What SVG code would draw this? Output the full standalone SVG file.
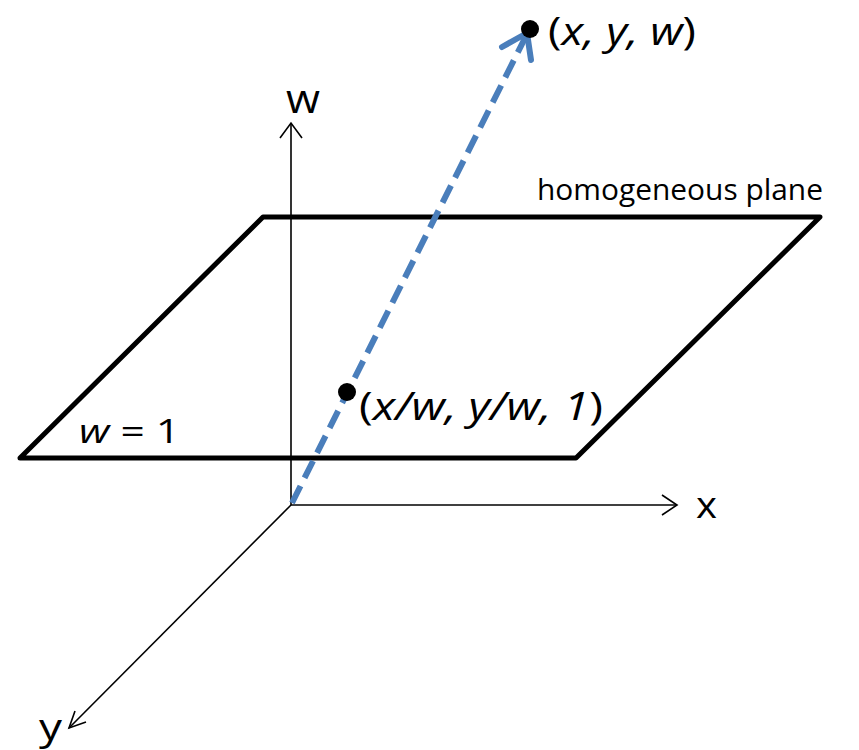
<svg xmlns="http://www.w3.org/2000/svg" width="859" height="750" viewBox="0 0 859 750">
<style>
.t{font-family:"Open Sans","Noto Sans",sans-serif;fill:#000}
.ax{fill:none;stroke:#000;stroke-width:1.6}
</style>
<rect width="859" height="750" fill="#fff"/>
<g id="plane">
<polygon points="263,217 820,217 576,458 20,458" fill="none" stroke="#000" stroke-width="5" stroke-linejoin="round"/>
<text class="t" x="537" y="200" font-size="29" textLength="286" lengthAdjust="spacingAndGlyphs">homogeneous plane</text>
<text class="t" x="79" y="443" font-size="33" textLength="101" lengthAdjust="spacingAndGlyphs"><tspan font-style="italic">w</tspan> = 1</text>
</g>
<g id="connectors">
<g id="w-axis"><line class="ax" x1="291" y1="505" x2="291" y2="123"/><polyline class="ax" points="280,138 291,123 302,138"/></g>
<g id="x-axis"><line class="ax" x1="291" y1="505" x2="677" y2="505"/><polyline class="ax" points="662,495 677,505 662,515"/></g>
<g id="y-axis"><line class="ax" x1="291" y1="505" x2="69" y2="728"/><polyline class="ax" points="75,711 69,728 86,722"/></g>
<g id="vector">
<line x1="292" y1="503" x2="526" y2="36" stroke="#4a7ebb" stroke-width="6" stroke-dasharray="19 9"/>
<polyline points="502,47 527,33 531,60" fill="none" stroke="#4a7ebb" stroke-width="6" stroke-linecap="round" stroke-linejoin="round"/>
</g>
</g>
<g id="labels">
<text class="t" x="286" y="113" font-size="40" textLength="34" lengthAdjust="spacingAndGlyphs">w</text>
<text class="t" x="696" y="518" font-size="37" textLength="21" lengthAdjust="spacingAndGlyphs">x</text>
<text class="t" x="39" y="740" font-size="37" textLength="23" lengthAdjust="spacingAndGlyphs">y</text>
</g>
<g id="point-xyw">
<circle cx="530" cy="29" r="9" fill="#000"/>
<text class="t" x="548" y="45" font-size="38" textLength="148" lengthAdjust="spacingAndGlyphs">(<tspan font-style="italic">x, y, w</tspan>)</text>
</g>
<g id="point-plane">
<circle cx="347" cy="392" r="9" fill="#000"/>
<text class="t" x="359" y="420" font-size="38" textLength="244" lengthAdjust="spacingAndGlyphs">(<tspan font-style="italic">x/w, y/w, 1</tspan>)</text>
</g>
</svg>
